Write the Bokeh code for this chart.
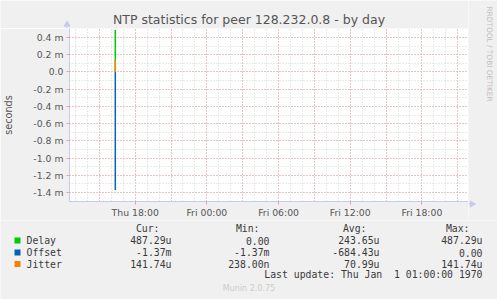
import math
import datetime as dt
from bokeh.plotting import figure
from bokeh.layouts import column, row
from bokeh.models import (FixedTicker, CustomJSTickFormatter, DatetimeTickFormatter, Range1d)
from bokeh.core.properties import value
from bokeh.embed import file_html
from bokeh.resources import INLINE

# ---------------- data ----------------
series = ["Delay", "Offset", "Jitter"]
colors = ["#00CC00", "#0066B3", "#FF8000"]
sample_times = [dt.datetime(1970, 1, 1, 16, 20)]
delay = [487.29e-6]
offset = [-1.37e-3]
jitter = [141.74e-6]
values = [delay, offset, jitter]

headers = ["Cur:", "Min:", "Avg:", "Max:"]
cur = ["487.29u", "-1.37m", "141.74u"]
mins = ["0.00", "-1.37m", "238.00n"]
avgs = ["243.65u", "-684.43u", "70.99u"]
maxs = ["487.29u", "0.00", "141.74u"]

x_tick_times = [dt.datetime(1970, 1, 1, 18), dt.datetime(1970, 1, 2, 0),
                dt.datetime(1970, 1, 2, 6), dt.datetime(1970, 1, 2, 12),
                dt.datetime(1970, 1, 2, 18)]
y_ticks = [-1.4e-3, -1.2e-3, -1.0e-3, -0.8e-3, -0.6e-3, -0.4e-3, -0.2e-3, 0.0, 0.2e-3, 0.4e-3]

title = "NTP statistics for peer 128.232.0.8 - by day"
y_label = "seconds"
credit = "RRDTOOL / TOBI OETIKER"
last_update = "Last update: Thu Jan \u00a01 01:00:00 1970"
footer = "Munin 2.0.75"

# ---------------- layout constants ----------------
W, H = 497, 299
FL, FT, FR, FB = 67, 28, 468, 203
BOTTOM_TOP = 220
BG = "#F0F0F0"
AXIS_C = "#c8c8f4"
MONO = value("DejaVu Sans Mono")
SANS = value("DejaVu Sans")


def blank(w, h):
    f = figure(width=w, height=h, output_backend="svg", toolbar_location=None,
               x_axis_type=None, y_axis_type=None,
               x_range=Range1d(0, w), y_range=Range1d(0, h),
               min_border=0, min_border_left=0, min_border_right=0,
               min_border_top=0, min_border_bottom=0)
    f.border_fill_color = BG
    f.background_fill_color = BG
    f.outline_line_color = None
    f.grid.visible = False
    return f


# ---------------- top strip (title) ----------------
top = blank(FR, FT)
top.text(x=[248.5], y=[FT - 19], text=[title], text_align="center", text_baseline="middle",
         text_font=SANS, text_font_size="12.5px", text_color="#555555")
top.segment(x0=[66.5], y0=[0], x1=[66.5], y1=[FT - 24], line_color=AXIS_C, line_width=1)
top.scatter(x=[66.5], y=[FT - 24], marker="triangle", size=6,
            fill_color=AXIS_C, line_color=AXIS_C)

# ---------------- main plot ----------------
x_start = dt.datetime(1970, 1, 1, 12, 30)
x_end = dt.datetime(1970, 1, 2, 21, 54)

p = figure(width=FR, height=BOTTOM_TOP - FT, output_backend="svg", toolbar_location=None,
           x_axis_type="datetime",
           x_range=Range1d(x_start, x_end), y_range=Range1d(-1.504e-3, 0.505e-3),
           min_border_left=FL, min_border_right=0,
           min_border_top=0, min_border_bottom=BOTTOM_TOP - FB)
p.border_fill_color = BG
p.background_fill_color = "white"
p.outline_line_color = None

H_MS = 3600 * 1000


def ms(d):
    return (d - dt.datetime(1970, 1, 1)).total_seconds() * 1000


major_x = [(15 + 3 * i) * H_MS for i in range(11)]
minor_x = [(12 + i) * H_MS for i in range(1, 35)]
p.xgrid.ticker = FixedTicker(ticks=major_x, minor_ticks=minor_x)
p.ygrid.ticker = FixedTicker(ticks=y_ticks,
                             minor_ticks=[round(-1.5e-3 + 1e-4 * i, 6) for i in range(21)])
for g in (p.xgrid, p.ygrid):
    g.grid_line_color = "#e6a0a0"
    g.grid_line_dash = "1 2"
    g.grid_line_width = 1
    g.minor_grid_line_color = "#d4d4d4"
    g.minor_grid_line_dash = "1 2"

p.xaxis.ticker = FixedTicker(ticks=[ms(t) for t in x_tick_times])
fmt = "%a %H:%M"
p.xaxis.formatter = DatetimeTickFormatter(hours=fmt, days=fmt, hourmin=fmt, minutes=fmt,
                                          months=fmt, years=fmt, minsec=fmt, seconds=fmt)
p.yaxis.ticker = FixedTicker(ticks=y_ticks)
p.yaxis.formatter = CustomJSTickFormatter(code="""
if (Math.abs(tick) < 1e-12) return "0.0";
return (tick*1000).toFixed(1) + " m";
""")
for ax in (p.xaxis, p.yaxis):
    ax.axis_line_color = AXIS_C
    ax.axis_line_width = 1
    ax.major_tick_line_color = "#e6a0a0"
    ax.major_tick_out = 3
    ax.major_tick_in = 0
    ax.minor_tick_line_color = None
    ax.major_label_text_font = "DejaVu Sans"
    ax.major_label_text_font_size = "9.3px"
    ax.major_label_text_color = "#555555"
p.xaxis.major_label_standoff = 2
p.yaxis.major_label_standoff = 3
p.yaxis.axis_label = y_label
p.yaxis.axis_label_text_font = "DejaVu Sans"
p.yaxis.axis_label_text_font_size = "9.7px"
p.yaxis.axis_label_text_font_style = "normal"
p.yaxis.axis_label_text_color = "#555555"
p.yaxis.axis_label_standoff = 16

for vals, c in zip(values, colors):
    p.segment(x0=sample_times, y0=[0] * len(vals), x1=sample_times, y1=vals,
              line_color=c, line_width=1.5)

# ---------------- right strip (credit + arrow) ----------------
RW = W - FR
right = blank(RW, BOTTOM_TOP)
right.text(x=[488.5 - FR], y=[BOTTOM_TOP - 53.5], text=[credit], angle=-math.pi / 2,
           text_align="center", text_baseline="middle",
           text_font=SANS, text_font_size="7.4px", text_color="#c0c0c0")
right.segment(x0=[0], y0=[BOTTOM_TOP - 203.5], x1=[3], y1=[BOTTOM_TOP - 203.5],
              line_color=AXIS_C, line_width=1)
right.scatter(x=[3.5], y=[BOTTOM_TOP - 203.5], marker="triangle", angle=-math.pi / 2,
              size=6, fill_color=AXIS_C, line_color=AXIS_C)

# ---------------- bottom strip (legend) ----------------
BH = H - BOTTOM_TOP
bot = blank(W, BH)


def by(py):
    return BH - (py - BOTTOM_TOP)


LEG_FS = "9.8px"
LEG_C = "#3a3a3a"
header_x = [159, 259, 366, 469]
bot.text(x=header_x, y=[by(228)] * 4, text=headers, text_align="right",
         text_baseline="middle", text_font=MONO, text_font_size=LEG_FS, text_color=LEG_C)

rows_y = [240, 252, 263.5]
col_x = [171, 269, 379, 482]
bot.rect(x=[17] * 3, y=[by(v) for v in rows_y], width=6, height=6,
         fill_color=colors, line_color=None)
bot.text(x=[26] * 3, y=[by(v) for v in rows_y], text=series, text_align="left",
         text_baseline="middle", text_font=MONO, text_font_size=LEG_FS, text_color=LEG_C)
for cx, col in zip(col_x, [cur, mins, avgs, maxs]):
    bot.text(x=[cx] * 3, y=[by(v) for v in rows_y], text=col, text_align="right",
             text_baseline="middle", text_font=MONO, text_font_size=LEG_FS, text_color=LEG_C)

bot.text(x=[482], y=[by(274)], text=[last_update], text_align="right", text_baseline="middle",
         text_font=MONO, text_font_size=LEG_FS, text_color=LEG_C)
bot.text(x=[248.5], y=[by(288)], text=[footer], text_align="center", text_baseline="middle",
         text_font=SANS, text_font_size="8px", text_color="#cccccc")

layout = column(row(column(row(top, spacing=0), row(p, spacing=0), spacing=0), right, spacing=0),
                bot, spacing=0)
open("out.html", "w").write(file_html(layout, INLINE))
